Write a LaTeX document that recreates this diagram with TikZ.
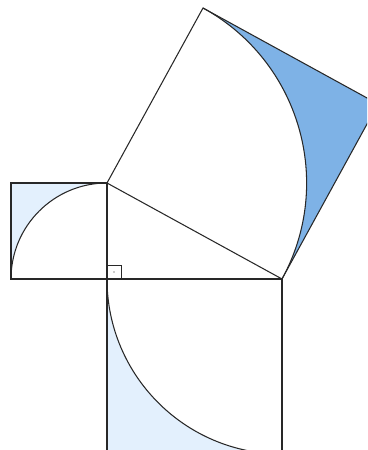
\documentclass[tikz,border=0pt]{standalone}
\usetikzlibrary{calc}
\definecolor{lightfill}{RGB}{227,240,253}
\definecolor{midfill}{RGB}{126,178,230}
\definecolor{edge}{RGB}{40,40,40}
\tikzset{
  edgeline/.style={draw=edge, line width=0.6pt, line join=miter},
}
\begin{document}
\begin{tikzpicture}[x=0.2mm,y=-0.2mm]
\useasboundingbox (0,0) rectangle (367,450);
\clip (0,0) rectangle (367,450);
% triangle vertices
\coordinate (C) at (107,279);
\coordinate (A) at (107,183);
\coordinate (B) at (282,279);
% left square
\coordinate (L1) at (11,183);
\coordinate (L2) at (11,279);
% bottom square
\coordinate (D1) at (107,454);
\coordinate (D2) at (282,454);
% hypotenuse square
\coordinate (H1) at (203,8);
\coordinate (H2) at (378,104);
% fills
\fill[lightfill] (L1) rectangle (C);
\fill[white] (C) -- (L2) arc[start angle=180, end angle=270, radius=96] -- cycle;
\fill[lightfill] (C) rectangle (D2);
\fill[white] (B) -- (C) arc[start angle=180, end angle=90, radius=175] -- cycle;
\fill[midfill] (H1) -- (H2) -- (B) arc[start angle=28.75, end angle=-61.25, radius=199.6] -- cycle;
% outlines
\draw[edgeline] (L1) rectangle (C);
\draw[edgeline] (L2) arc[start angle=180, end angle=270, radius=96];
\draw[edgeline] (C) -- (B) -- (D2) -- (D1) -- cycle;
\draw[edgeline] (C) arc[start angle=180, end angle=90, radius=175];
\draw[edgeline] (A) -- (H1) -- (H2) -- (B) -- cycle;
\draw[edgeline] (H1) arc[start angle=-61.25, end angle=28.75, radius=199.6];
\draw[edgeline] (A) -- (C);
% right angle mark
\draw[edge, line width=0.5pt] (C) rectangle ++(14,-14);
\fill[edge] ($(C)+(7,-7)$) circle[radius=0.6];
\end{tikzpicture}
\end{document}
